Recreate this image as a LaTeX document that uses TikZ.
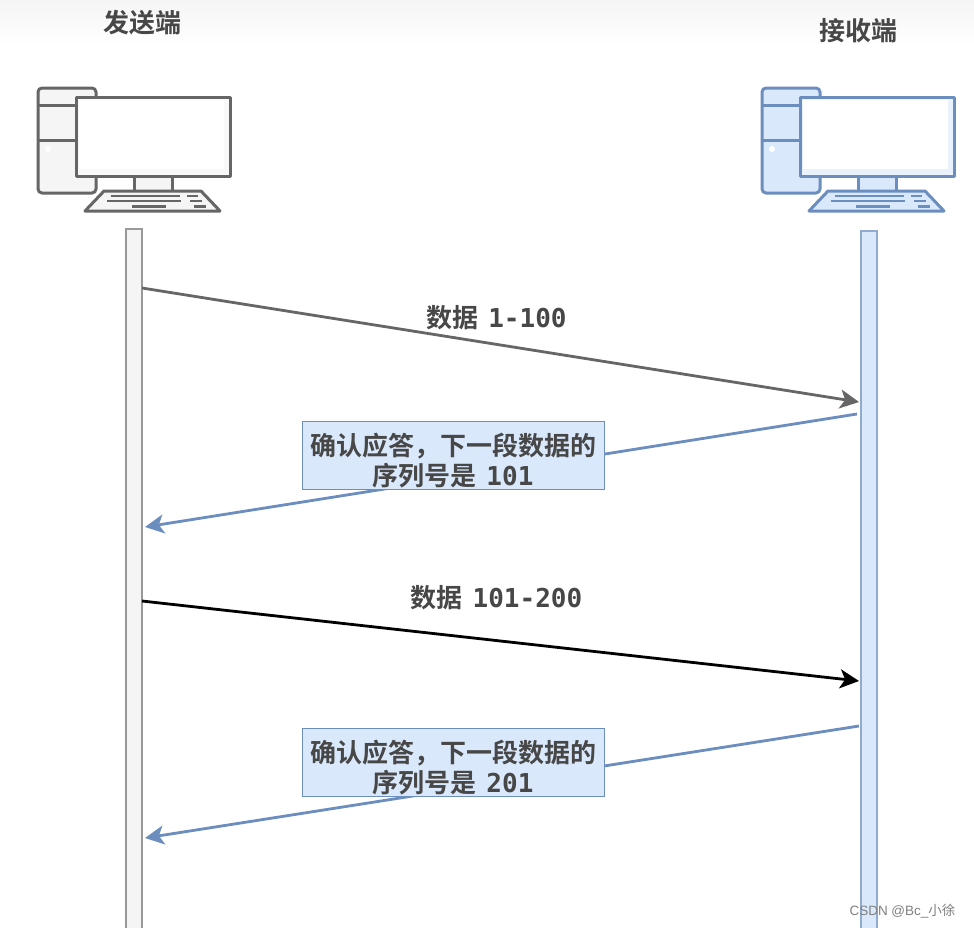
\documentclass[tikz,border=0pt]{standalone}
\usepackage{fontspec}
\setmainfont{Liberation Sans}
\newfontfamily\cjkbold{Noto Sans CJK SC Bold}
\newfontfamily\cjkthin{Noto Sans CJK SC}
\newfontfamily\digitfont{DejaVu Sans Mono}
\usetikzlibrary{arrows.meta}
\definecolor{greyline}{HTML}{666666}
\definecolor{greyfill}{HTML}{F5F5F5}
\definecolor{blueline}{HTML}{6C8EBF}
\definecolor{bluefill}{HTML}{DAE8FC}
\newcommand{\seqnum}[1]{\hspace{4pt}{\digitfont\bfseries #1}}
\tikzset{
  pclabel/.style={text=black!72, font=\cjkbold\fontsize{26}{28}\selectfont},
  msgtext/.style={text=black!72, font=\cjkbold\fontsize{26}{30}\selectfont, align=center},
  ackbox/.style={msgtext, draw=blueline, fill=bluefill, line width=1pt, minimum width=302pt, minimum height=68pt, inner sep=0pt},
  lifegrey/.style={draw=black!40, fill=greyfill, line width=1.5pt},
  lifeblue/.style={draw=blueline!75, fill=bluefill, line width=1.5pt},
  msgarrow/.style={line width=2.8pt, -{Stealth[length=19pt,width=19pt,inset=5pt]}},
  pics/computer/.style n args={2}{code={
    \begin{scope}[line width=3pt, draw=#1, line join=round]
    \draw[fill=#2, rounded corners=4pt] (38,88) rectangle (96,193);
    \draw (38,105) -- (76,105) (38,140) -- (76,140);
    \fill[white] (48,149) circle (3);
    \draw[fill=#2] (134,176) rectangle (172,191);
    \draw[fill=#2] (104,191) -- (201,191) -- (220,211) -- (85,211) -- cycle;
    \draw[fill=#2!60] (76,97) rectangle (230,176);
    \fill[white] (79,100) rectangle (224,169);
    \draw[line width=2.4pt] (111,196) -- (180,196) (187,196) -- (198,196) (107,201) -- (181,201) (190,201) -- (202,201) (132,206.5) -- (166,206.5) (194,206.5) -- (206,206.5);
    \end{scope}
  }}
}
\begin{document}
\begin{tikzpicture}[x=1pt,y=-1pt]
\useasboundingbox (0,0) rectangle (974,927);
\shade[top color=black!4, bottom color=white] (0,0) rectangle (974,46);
\pic at (0,0) {computer={greyline}{greyfill}};
\pic at (724,0) {computer={blueline}{bluefill}};
\node[pclabel] (sender) at (142,23) {发送端};
\node[pclabel] (receiver) at (858,31) {接收端};
\draw[lifegrey] (126,229) rectangle (142,930);
\draw[lifeblue] (861,231) rectangle (877,930);
\coordinate (s1) at (142,288);
\coordinate (r1) at (859,402);
\coordinate (r2) at (857,414);
\coordinate (s2) at (145,527);
\coordinate (s3) at (142,601);
\coordinate (r3) at (859,681);
\coordinate (r4) at (859,726);
\coordinate (s4) at (145,838);
\draw[msgarrow, greyline] (s1) -- (r1);
\draw[msgarrow, blueline] (r2) -- (s2);
\draw[msgarrow, black] (s3) -- (r3);
\draw[msgarrow, blueline] (r4) -- (s4);
\node[msgtext] (data1) at (496.5,318) {数据 \seqnum{1-100}};
\node[msgtext] (data2) at (496.5,598) {数据 \seqnum{101-200}};
\node[ackbox] (ack1) at (453,455) {\rule{0pt}{33pt}确认应答，下一段数据的\\序列号是 \seqnum{101}};
\node[ackbox] (ack2) at (453,762) {\rule{0pt}{33pt}确认应答，下一段数据的\\序列号是 \seqnum{201}};
\node[text=black!50, font=\fontsize{13.5}{16}\selectfont, anchor=east] (mark) at (959,911) {CSDN @Bc\_{\cjkthin 小徐}};
\end{tikzpicture}
\end{document}
